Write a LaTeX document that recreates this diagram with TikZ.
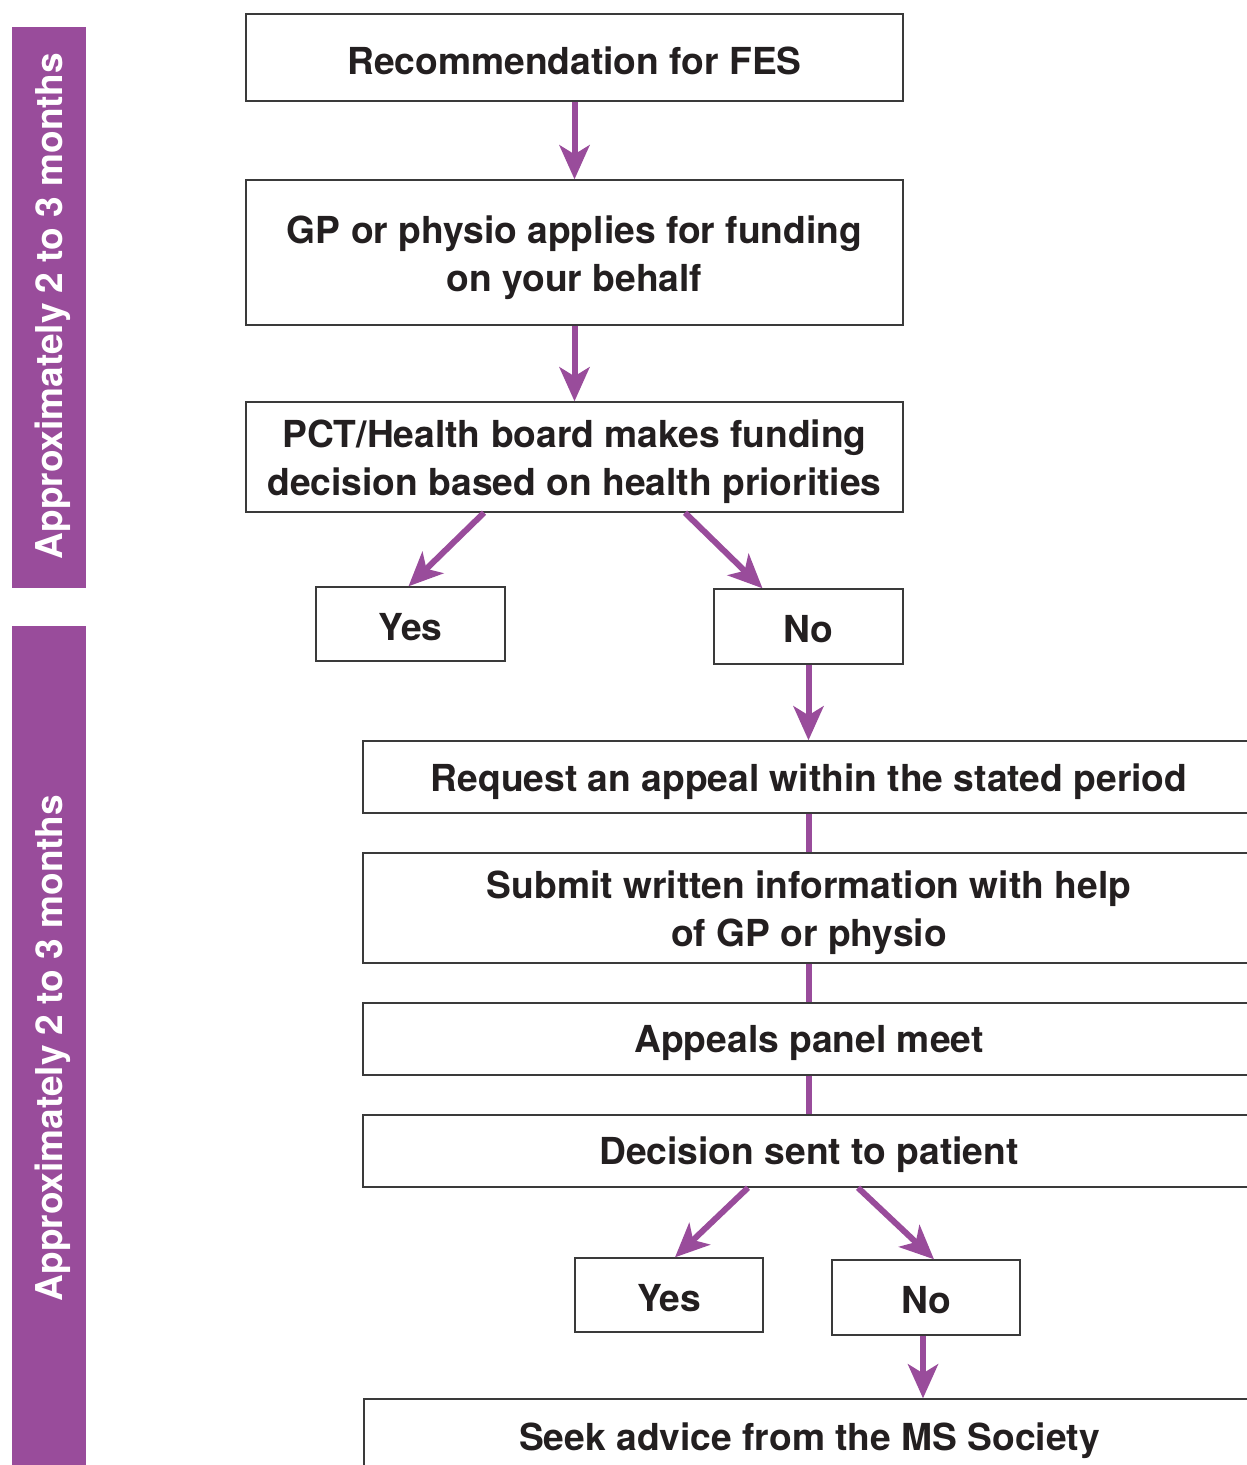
\documentclass[tikz,border=0pt]{standalone}
\usepackage{fontspec}
\setmainfont{TeX Gyre Heros}
\usetikzlibrary{arrows.meta}
\definecolor{msp}{HTML}{994C9B}
\definecolor{ink}{HTML}{231F20}
\definecolor{edgec}{HTML}{3A3A3A}
\begin{document}
\begin{tikzpicture}[x=1pt,y=-1pt,
  box/.style={draw=edgec, line width=1.4pt, rectangle, inner sep=0pt},
  boxtext/.style={inner sep=0pt, align=center, text=ink,
    font=\fontsize{37.2}{48}\selectfont\bfseries},
  flow/.style={draw=msp, line width=6pt, -{Stealth[length=34pt,width=30pt,inset=9pt]}},
  link/.style={draw=msp, line width=6pt},
  bar/.style={fill=msp, draw=none, inner sep=0pt},
  bartext/.style={rotate=90, text=white, inner sep=0pt, font=\fontsize{37}{40}\selectfont\bfseries}]
\useasboundingbox (0,0) rectangle (1247,1465);

% side bars
\node[bar, minimum width=74pt, minimum height=561pt] (bar1) at (49,307.5) {};
\node[bartext] (bar1t) at (53,306) {Approximately 2 to 3 months};
\node[bar, minimum width=74pt, minimum height=849pt] (bar2) at (49,1050.5) {};
\node[bartext] (bar2t) at (53,1048) {Approximately 2 to 3 months};

% main boxes
\node[box, minimum width=657pt, minimum height=87pt] (b1) at (574.5,57.5) {};
\node[box, minimum width=657pt, minimum height=145pt] (b2) at (574.5,252.5) {};
\node[box, minimum width=657pt, minimum height=110pt] (b3) at (574.5,457) {};
\node[box, minimum width=189pt, minimum height=74pt] (yes1) at (410.5,624) {};
\node[box, minimum width=189pt, minimum height=75pt] (no1) at (808.5,626.5) {};
\node[box, minimum width=892pt, minimum height=72pt] (a1) at (809,777) {};
\node[box, minimum width=892pt, minimum height=110pt] (a2) at (809,908) {};
\node[box, minimum width=892pt, minimum height=72pt] (a3) at (809,1039) {};
\node[box, minimum width=892pt, minimum height=72pt] (a4) at (809,1151) {};
\node[box, minimum width=188pt, minimum height=74pt] (yes2) at (669,1295) {};
\node[box, minimum width=188pt, minimum height=75pt] (no2) at (926,1297.5) {};
\node[box, minimum width=891pt, minimum height=76pt] (fin) at (809.5,1437) {};

% texts
\node[boxtext] (b1t) at ([yshift=-3pt]b1.center) {Recommendation for FES};
\node[boxtext] (b2t) at ([yshift=-5pt]b2.center) {GP or physio applies for funding\\on your behalf};
\node[boxtext] (b3t) at ([yshift=-5pt]b3.center) {PCT/Health board makes funding\\decision based on health priorities};
\node[boxtext] (yes1t) at ([yshift=-3pt]yes1.center) {Yes};
\node[boxtext] (no1t) at ([yshift=-3pt]no1.center) {No};
\node[boxtext] (a1t) at ([yshift=-5pt]a1.center) {Request an appeal within the stated period};
\node[boxtext] (a2t) at ([yshift=-5pt]a2.center) {Submit written information with help\\of GP or physio};
\node[boxtext] (a3t) at ([yshift=-4pt]a3.center) {Appeals panel meet};
\node[boxtext] (a4t) at ([yshift=-4pt]a4.center) {Decision sent to patient};
\node[boxtext] (yes2t) at ([yshift=-3pt]yes2.center) {Yes};
\node[boxtext] (no2t) at ([yshift=-3pt]no2.center) {No};
\node[boxtext] (fint) at ([yshift=-4pt]fin.center) {Seek advice from the MS Society};

% connectors
\draw[flow] (b1.south) -- (b2.north);
\draw[flow] (b2.south) -- (b3.north);
\draw[flow] ([xshift=-90.5pt]b3.south) -- ([xshift=-2pt]yes1.north);
\draw[flow] ([xshift=110.5pt]b3.south) -- ([xshift=-46pt]no1.north);
\draw[flow] (no1.south) -- (no1.south |- a1.north);
\draw[link] (a1.south) -- (a2.north);
\draw[link] (a2.south) -- (a3.north);
\draw[link] (a3.south) -- (a4.north);
\draw[flow] ([xshift=-61pt]a4.south) -- ([xshift=6pt]yes2.north);
\draw[flow] ([xshift=49pt]a4.south) -- ([xshift=8pt]no2.north);
\draw[flow] ([xshift=-3pt]no2.south) -- ([xshift=-3pt]no2.south |- fin.north);
\end{tikzpicture}
\end{document}
